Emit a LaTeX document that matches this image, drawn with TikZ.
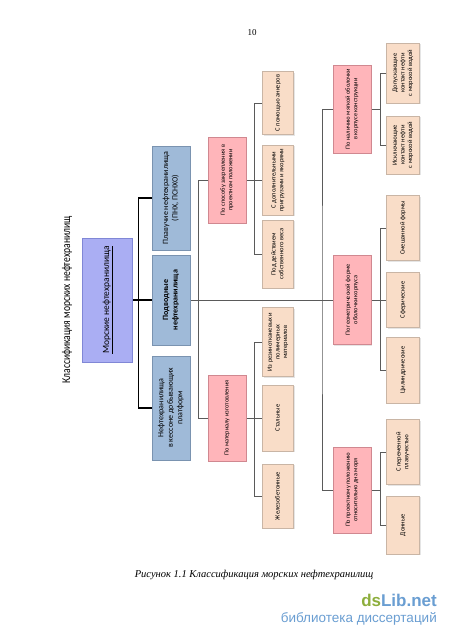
\documentclass[tikz,border=0pt]{standalone}
\usepackage{fontspec}
\setmainfont{Carlito}
\newfontfamily\narrowfont[FakeStretch=0.8]{Carlito}
\newfontfamily\capfont{Liberation Serif}
\newfontfamily\markfont{Liberation Sans}
\usepackage{graphicx}
\usepackage{xcolor}
\usepackage{tikz}
\usetikzlibrary{calc, shadows, backgrounds}
\definecolor{rootblue}{HTML}{AAAEF3}
\definecolor{rootedge}{HTML}{8087D6}
\definecolor{kindblue}{HTML}{9FBAD8}
\definecolor{kindedge}{HTML}{7A93B0}
\definecolor{signpink}{HTML}{FFB5BA}
\definecolor{signedge}{HTML}{D08890}
\definecolor{leafpeach}{HTML}{F9DDC8}
\definecolor{leafedge}{HTML}{C9B5A5}
\definecolor{linegray}{HTML}{5A5A5A}
\definecolor{dsgreen}{HTML}{8DAE3C}
\definecolor{dsblue}{HTML}{6A9ED2}
\newcommand{\uplabel}[1]{\rotatebox{90}{\begin{tabular}{@{}c@{}}#1\end{tabular}}}

\begin{document}
\begin{tikzpicture}[x=1pt, y=-1pt,
    boxbase/.style={draw, inner sep=0pt,
                    drop shadow={shadow xshift=1pt, shadow yshift=-1pt, opacity=.2}},
    rootbox/.style={boxbase, fill=rootblue, draw=rootedge, line width=.8pt,
                    minimum width=50pt, minimum height=124pt, font=\fontsize{9.5}{11}\selectfont},
    kindbox/.style={boxbase, fill=kindblue, draw=kindedge, line width=.7pt,
                    minimum width=38pt, font=\fontsize{8}{9.5}\selectfont},
    signbox/.style={boxbase, fill=signpink, draw=signedge, line width=.7pt,
                    minimum width=38pt, font=\fontsize{6.3}{7.5}\selectfont},
    leafbox/.style={boxbase, fill=leafpeach, draw=leafedge, line width=.5pt,
                    minimum width=31pt, font=\fontsize{6.5}{7.6}\selectfont},
    trunk/.style={line width=1.4pt},
    link/.style={draw=linegray, line width=.6pt}]
  \useasboundingbox (0,0) rectangle (450,637);

  % page furniture
  \node (pagenum) at (252,33) {\capfont\fontsize{9}{10}\selectfont 10};
  \node (title) at (67,300) {\rotatebox{90}{\narrowfont\fontsize{12}{14}\selectfont Классификация морских нефтехранилищ}};

  % root and kinds
  \node[rootbox] (root) at (107,300) {\uplabel{\underline{Морские нефтехранилища}}};
  \node[kindbox, minimum height=104pt] (floating) at (171,198) {\uplabel{Плавучие нефтехранилища\\(ПНХ, ПСНХО)}};
  \node[kindbox, minimum height=90pt] (underwater) at (171,300) {\uplabel{\textbf{Подводные}\\\textbf{нефтехранилища}}};
  \node[kindbox, minimum height=104pt] (caisson) at (171,408) {\uplabel{Нефтехранилища\\в кессоне добывающих\\платформ}};

  % signs, left column
  \node[signbox, minimum height=86pt] (fixing) at (227,180) {\uplabel{По способу закрепления в\\проектном положении}};
  \node[signbox, minimum height=86pt] (material) at (227,418) {\uplabel{По материалу изготовления}};

  \node[leafbox, minimum height=63pt] (anchors) at (278,103) {\uplabel{С помощью анкеров}};
  \node[leafbox, minimum height=70pt] (ballast) at (278,180) {\uplabel{С дополнительными\\пригрузами и якорями}};
  \node[leafbox, minimum height=68pt] (ownweight) at (278,254) {\uplabel{Под действием\\собственного веса}};
  \node[leafbox, minimum height=69pt] (rubber) at (278,342) {\uplabel{Из резинотканевых и\\полимерных\\материалов}};
  \node[leafbox, minimum height=66pt] (steel) at (278,418) {\uplabel{Стальные}};
  \node[leafbox, minimum height=64pt] (concrete) at (278,496) {\uplabel{Железобетонные}};

  % signs, right column
  \node[signbox, minimum height=88pt] (shell) at (352,109) {\uplabel{По наличию мягкой оболочки\\в корпусе конструкции}};
  \node[signbox, minimum height=89pt] (geometry) at (352,300) {\uplabel{По геометрической форме\\оболочки корпуса}};
  \node[signbox, minimum height=86pt] (position) at (352,490) {\uplabel{По проектному положению\\относительно дна моря}};

  \node[leafbox, minimum width=33pt, minimum height=60pt] (allowing) at (403,73) {\uplabel{Допускающие\\контакт нефти\\с морской водой}};
  \node[leafbox, minimum width=33pt, minimum height=58pt] (excluding) at (403,145) {\uplabel{Исключающие\\контакт нефти\\с морской водой}};
  \node[leafbox, minimum width=33pt, minimum height=65pt] (mixed) at (403,228) {\uplabel{Смешанной формы}};
  \node[leafbox, minimum width=33pt, minimum height=55pt] (spherical) at (403,300) {\uplabel{Сферические}};
  \node[leafbox, minimum width=33pt, minimum height=66pt] (cylindrical) at (403,370) {\uplabel{Цилиндрические}};
  \node[leafbox, minimum width=33pt, minimum height=65pt] (variable) at (403,452) {\uplabel{С переменной\\плавучестью}};
  \node[leafbox, minimum width=33pt, minimum height=58pt] (seabed) at (403,525) {\uplabel{Донные}};

  % caption and mark
  \node (caption) at (254,575) {\capfont\itshape\fontsize{10.5}{12}\selectfont Рисунок 1.1 Классификация морских нефтехранилищ};
  \node[anchor=east, inner sep=0pt] (mark) at (437,600) {\markfont\bfseries\fontsize{17}{18}\selectfont\textcolor{dsgreen}{ds}\textcolor{dsblue}{Lib.net}};
  \node[anchor=east, inner sep=0pt] (markline) at (437,619) {\markfont\fontsize{13.5}{15}\selectfont\textcolor{dsblue}{библиотека диссертаций}};

  % connectors, behind the boxes
  \begin{scope}[on background layer]
    \fill[white] (0,0) rectangle (450,637);
    \draw[trunk] (floating.west) -| ($(root.east)+(6,0)$) |- (caisson.west);
    \draw[trunk] (root.east) -- (underwater.west);
    \draw[link] (underwater.east) -- (geometry.west);
    \draw[link] (fixing.west) -| ($(underwater.east)+(8,0)$) |- (material.west);
    \draw[link] (anchors.west) -| ($(fixing.east)+(8,0)$) |- (ownweight.west);
    \draw[link] (fixing.east) -- (ballast.west);
    \draw[link] (rubber.west) -| ($(material.east)+(8,0)$) |- (concrete.west);
    \draw[link] (material.east) -- (steel.west);
    \coordinate (rbus) at (322,300);
    \draw[link] (shell.west) -| (rbus) |- (position.west);
    \draw[link] (allowing.west) -| ($(shell.east)+(9,0)$) |- (excluding.west);
    \draw[link] (shell.east) -- ++(9,0);
    \draw[link] (mixed.west) -| ($(geometry.east)+(9,0)$) |- (cylindrical.west);
    \draw[link] (geometry.east) -- (spherical.west);
    \draw[link] (variable.west) -| ($(position.east)+(9,0)$) |- (seabed.west);
    \draw[link] (position.east) -- ++(9,0);
  \end{scope}
\end{tikzpicture}
\end{document}
